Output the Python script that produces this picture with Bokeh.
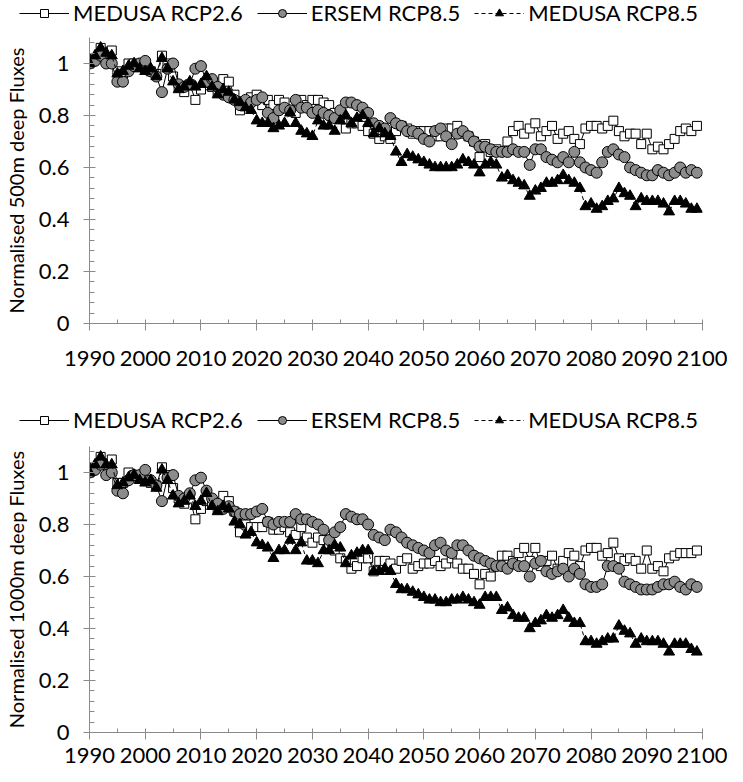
from bokeh.plotting import figure
from bokeh.models import FixedTicker, NumeralTickFormatter, Legend, LegendItem, Range1d
from bokeh.layouts import column
from bokeh.embed import file_html
from bokeh.resources import INLINE

years = list(range(1990, 2100))

# ---- 500 m deep fluxes ----
medusa26_500 = [
    1.00, 1.02, 1.06, 1.03, 1.05, 0.97, 0.96, 1.00, 1.00, 0.99,
    0.98, 0.97, 0.96, 1.03, 1.00, 0.95, 0.91, 0.89, 0.92, 0.86,
    0.90, 0.93, 0.91, 0.89, 0.94, 0.93, 0.88, 0.82, 0.84, 0.87,
    0.88, 0.84, 0.86, 0.84, 0.86, 0.85, 0.82, 0.81, 0.86, 0.84,
    0.86, 0.86, 0.85, 0.84, 0.81, 0.80, 0.75, 0.77, 0.77, 0.76,
    0.74, 0.73, 0.71, 0.72, 0.71, 0.74, 0.76, 0.75, 0.73, 0.74,
    0.74, 0.74, 0.72, 0.72, 0.75, 0.75, 0.76, 0.73, 0.72, 0.70,
    0.64, 0.69, 0.66, 0.67, 0.66, 0.70, 0.74, 0.76, 0.73, 0.75,
    0.77, 0.72, 0.74, 0.76, 0.71, 0.73, 0.74, 0.71, 0.69, 0.75,
    0.76, 0.76, 0.75, 0.76, 0.78, 0.74, 0.72, 0.73, 0.73, 0.69,
    0.73, 0.67, 0.68, 0.67, 0.69, 0.71, 0.74, 0.75, 0.74, 0.76,
][:110]
ersem85_500 = [
    1.00, 1.01, 1.03, 1.00, 1.00, 0.93, 0.93, 0.97, 0.99, 1.00,
    1.01, 0.97, 0.95, 0.89, 0.98, 1.00, 0.92, 0.91, 0.92, 0.98,
    0.99, 0.93, 0.94, 0.91, 0.88, 0.87, 0.86, 0.84, 0.86, 0.85,
    0.86, 0.87, 0.81, 0.79, 0.82, 0.83, 0.82, 0.86, 0.83, 0.83,
    0.81, 0.82, 0.81, 0.80, 0.79, 0.82, 0.85, 0.85, 0.84, 0.83,
    0.81, 0.77, 0.76, 0.75, 0.79, 0.77, 0.76, 0.74, 0.74, 0.73,
    0.71, 0.70, 0.74, 0.75, 0.72, 0.69, 0.73, 0.74, 0.72, 0.70,
    0.68, 0.68, 0.67, 0.66, 0.66, 0.66, 0.67, 0.66, 0.66, 0.61,
    0.67, 0.67, 0.64, 0.63, 0.62, 0.64, 0.62, 0.66, 0.62, 0.60,
    0.59, 0.58, 0.62, 0.66, 0.67, 0.65, 0.64, 0.60, 0.59, 0.58,
    0.57, 0.57, 0.59, 0.58, 0.57, 0.58, 0.60, 0.58, 0.59, 0.58,
][:110]
medusa85_500 = [
    1.00, 1.03, 1.06, 1.04, 1.03, 0.96, 0.97, 0.99, 1.00, 0.98,
    0.97, 0.98, 0.95, 1.02, 0.98, 0.93, 0.90, 0.91, 0.93, 0.91,
    0.92, 0.95, 0.91, 0.88, 0.90, 0.89, 0.86, 0.85, 0.83, 0.82,
    0.78, 0.77, 0.77, 0.75, 0.76, 0.77, 0.81, 0.77, 0.74, 0.73,
    0.72, 0.78, 0.76, 0.76, 0.74, 0.78, 0.80, 0.77, 0.79, 0.80,
    0.77, 0.73, 0.75, 0.73, 0.72, 0.66, 0.62, 0.65, 0.64, 0.63,
    0.62, 0.61, 0.60, 0.60, 0.60, 0.60, 0.61, 0.63, 0.62, 0.61,
    0.58, 0.61, 0.62, 0.61, 0.56, 0.57, 0.55, 0.54, 0.53, 0.49,
    0.51, 0.52, 0.54, 0.54, 0.55, 0.57, 0.55, 0.54, 0.52, 0.45,
    0.46, 0.44, 0.45, 0.47, 0.48, 0.52, 0.50, 0.49, 0.45, 0.48,
    0.47, 0.47, 0.47, 0.46, 0.43, 0.47, 0.47, 0.46, 0.44, 0.44,
][:110]

# ---- 1000 m deep fluxes ----
medusa26_1000 = [
    1.00, 1.02, 1.06, 1.03, 1.05, 0.96, 0.96, 1.00, 0.99, 0.98,
    0.97, 0.96, 0.95, 1.02, 0.99, 0.94, 0.90, 0.88, 0.90, 0.82,
    0.86, 0.89, 0.88, 0.86, 0.91, 0.89, 0.85, 0.77, 0.80, 0.79,
    0.79, 0.79, 0.81, 0.78, 0.78, 0.79, 0.77, 0.76, 0.79, 0.75,
    0.73, 0.75, 0.74, 0.72, 0.70, 0.67, 0.66, 0.63, 0.64, 0.67,
    0.67, 0.62, 0.66, 0.66, 0.65, 0.63, 0.66, 0.67, 0.63, 0.64,
    0.65, 0.65, 0.66, 0.64, 0.65, 0.67, 0.65, 0.63, 0.63, 0.61,
    0.57, 0.61, 0.60, 0.64, 0.68, 0.68, 0.66, 0.69, 0.71, 0.66,
    0.71, 0.64, 0.66, 0.68, 0.63, 0.66, 0.69, 0.68, 0.64, 0.70,
    0.71, 0.71, 0.68, 0.69, 0.73, 0.67, 0.66, 0.67, 0.66, 0.63,
    0.70, 0.63, 0.64, 0.62, 0.67, 0.68, 0.69, 0.69, 0.69, 0.70,
][:110]
ersem85_1000 = [
    1.00, 1.01, 1.03, 0.99, 1.00, 0.93, 0.92, 0.97, 0.99, 0.99,
    1.01, 0.97, 0.95, 0.89, 0.98, 0.99, 0.91, 0.90, 0.92, 0.97,
    0.98, 0.93, 0.90, 0.88, 0.86, 0.87, 0.85, 0.84, 0.84, 0.84,
    0.85, 0.86, 0.81, 0.80, 0.81, 0.81, 0.81, 0.84, 0.82, 0.82,
    0.81, 0.80, 0.78, 0.74, 0.77, 0.79, 0.84, 0.83, 0.82, 0.82,
    0.80, 0.76, 0.75, 0.74, 0.78, 0.77, 0.75, 0.73, 0.72, 0.71,
    0.70, 0.69, 0.72, 0.73, 0.70, 0.69, 0.72, 0.72, 0.70, 0.68,
    0.67, 0.66, 0.65, 0.64, 0.64, 0.63, 0.65, 0.64, 0.64, 0.60,
    0.65, 0.66, 0.62, 0.61, 0.62, 0.63, 0.60, 0.63, 0.61, 0.57,
    0.56, 0.56, 0.57, 0.64, 0.64, 0.63, 0.58, 0.57, 0.56, 0.55,
    0.55, 0.55, 0.56, 0.57, 0.57, 0.58, 0.56, 0.55, 0.57, 0.56,
][:110]
medusa85_1000 = [
    1.00, 1.03, 1.06, 1.03, 1.03, 0.95, 0.96, 0.98, 0.99, 0.97,
    0.96, 0.97, 0.94, 1.01, 0.97, 0.91, 0.88, 0.89, 0.91, 0.87,
    0.89, 0.92, 0.87, 0.85, 0.87, 0.86, 0.81, 0.80, 0.76, 0.77,
    0.73, 0.72, 0.71, 0.67, 0.70, 0.70, 0.74, 0.70, 0.73, 0.66,
    0.66, 0.65, 0.70, 0.70, 0.72, 0.71, 0.65, 0.68, 0.69, 0.70,
    0.70, 0.62, 0.62, 0.63, 0.62, 0.57, 0.55, 0.55, 0.54, 0.53,
    0.52, 0.51, 0.51, 0.50, 0.50, 0.51, 0.51, 0.52, 0.51, 0.50,
    0.49, 0.52, 0.52, 0.52, 0.47, 0.48, 0.45, 0.44, 0.44, 0.40,
    0.42, 0.43, 0.45, 0.44, 0.45, 0.47, 0.44, 0.42, 0.42, 0.35,
    0.35, 0.34, 0.35, 0.36, 0.36, 0.41, 0.39, 0.38, 0.34, 0.36,
    0.35, 0.35, 0.35, 0.34, 0.31, 0.34, 0.34, 0.34, 0.32, 0.31,
][:110]

series_labels = ["MEDUSA RCP2.6", "ERSEM RCP8.5", "MEDUSA RCP8.5"]
y_titles = ["Normalised 500m deep Fluxes", "Normalised 1000m deep Fluxes"]
x_ticks = list(range(1990, 2101, 10))
x_minor = list(range(1995, 2100, 10))
y_ticks = [0, 0.2, 0.4, 0.6, 0.8, 1.0]
y_minor = [round(k * 0.04, 2) for k in range(28) if k % 5 != 0]

FONT = "Lato"
AXIS_GRAY = "#8a8a8a"
CIRCLE_GRAY = "#8c8c8c"


def add_series(p, xs, s26, s_ersem, s85):
    l1 = p.line(xs, s26, line_color="black", line_width=1)
    m1 = p.scatter(xs, s26, marker="square", size=9, fill_color="white",
                   line_color="black", line_width=1)
    l2 = p.line(xs, s_ersem, line_color="black", line_width=1)
    m2 = p.scatter(xs, s_ersem, marker="circle", size=11,
                   fill_color=CIRCLE_GRAY, line_color="black", line_width=1)
    l3 = p.line(xs, s85, line_color="black", line_width=1, line_dash="4 3")
    m3 = p.scatter(xs, s85, marker="triangle", size=11, fill_color="black",
                   line_color="black", line_width=1)
    return [(l1, m1), (l2, m2), (l3, m3)]


def make_legend_fig(height, y_off):
    lf = figure(width=727, height=height, output_backend="svg", toolbar_location=None,
                x_axis_type=None, y_axis_type=None,
                x_range=Range1d(0, 1), y_range=Range1d(0, 1),
                min_border_left=0, min_border_right=0, min_border_top=0, min_border_bottom=0)
    lf.frame_align = False
    lf.outline_line_color = None
    lf.xgrid.visible = False
    lf.ygrid.visible = False
    # off-range placeholder point: only the legend swatches are visible
    pairs = add_series(lf, [-5], [-5], [-5], [-5])
    legend = Legend(items=[LegendItem(label=series_labels[i], renderers=list(pairs[i]))
                           for i in range(3)],
                    orientation="horizontal", location=(19, y_off))
    legend.label_text_font = FONT
    legend.label_text_font_size = "22px"
    legend.label_text_color = "black"
    legend.glyph_width = 50
    legend.glyph_height = 20
    legend.label_standoff = 4
    legend.spacing = 14
    legend.padding = 0
    legend.margin = 0
    legend.border_line_color = None
    legend.background_fill_alpha = 0
    lf.add_layout(legend)
    return lf


def make_panel(s26, s_ersem, s85, ytitle, height, bottom_border, label_standoff):
    p = figure(width=727, height=height, output_backend="svg",
               toolbar_location=None,
               x_range=Range1d(1990, 2100), y_range=Range1d(0, 1.1),
               min_border_left=84, min_border_right=25,
               min_border_top=0, min_border_bottom=bottom_border)
    p.outline_line_color = None
    p.xgrid.visible = False
    p.ygrid.visible = False
    p.background_fill_color = "white"
    add_series(p, years, s26, s_ersem, s85)

    xa = p.xaxis[0]
    xa.ticker = FixedTicker(ticks=x_ticks, minor_ticks=x_minor)
    xa.formatter = NumeralTickFormatter(format="0")
    xa.axis_line_color = AXIS_GRAY
    xa.major_tick_line_color = AXIS_GRAY
    xa.minor_tick_line_color = AXIS_GRAY
    xa.major_tick_in = 4
    xa.major_tick_out = 7
    xa.minor_tick_in = 4
    xa.minor_tick_out = 0
    xa.major_label_text_font = FONT
    xa.major_label_text_font_size = "22px"
    xa.major_label_text_color = "black"
    xa.major_label_standoff = label_standoff

    ya = p.yaxis[0]
    ya.ticker = FixedTicker(ticks=y_ticks, minor_ticks=y_minor)
    ya.formatter = NumeralTickFormatter(format="0.[0]")
    ya.axis_line_color = AXIS_GRAY
    ya.major_tick_line_color = AXIS_GRAY
    ya.minor_tick_line_color = AXIS_GRAY
    ya.major_tick_in = 6
    ya.major_tick_out = 6
    ya.minor_tick_in = 5
    ya.minor_tick_out = 0
    ya.major_label_text_font = FONT
    ya.major_label_text_font_size = "22px"
    ya.major_label_text_color = "black"
    ya.major_label_standoff = 14
    ya.axis_label = ytitle
    ya.axis_label_text_font = FONT
    ya.axis_label_text_font_size = "20px"
    ya.axis_label_text_font_style = "normal"
    ya.axis_label_text_color = "black"
    ya.axis_label_standoff = 8
    return p


leg1 = make_legend_fig(37, 11)
p1 = make_panel(medusa26_500, ersem85_500, medusa85_500, y_titles[0], 361, 75, 20)
leg2 = make_legend_fig(48, 13)
p2 = make_panel(medusa26_1000, ersem85_1000, medusa85_1000, y_titles[1], 328, 42, 8)

layout = column(leg1, p1, leg2, p2)
open("out.html", "w").write(file_html(layout, INLINE))
